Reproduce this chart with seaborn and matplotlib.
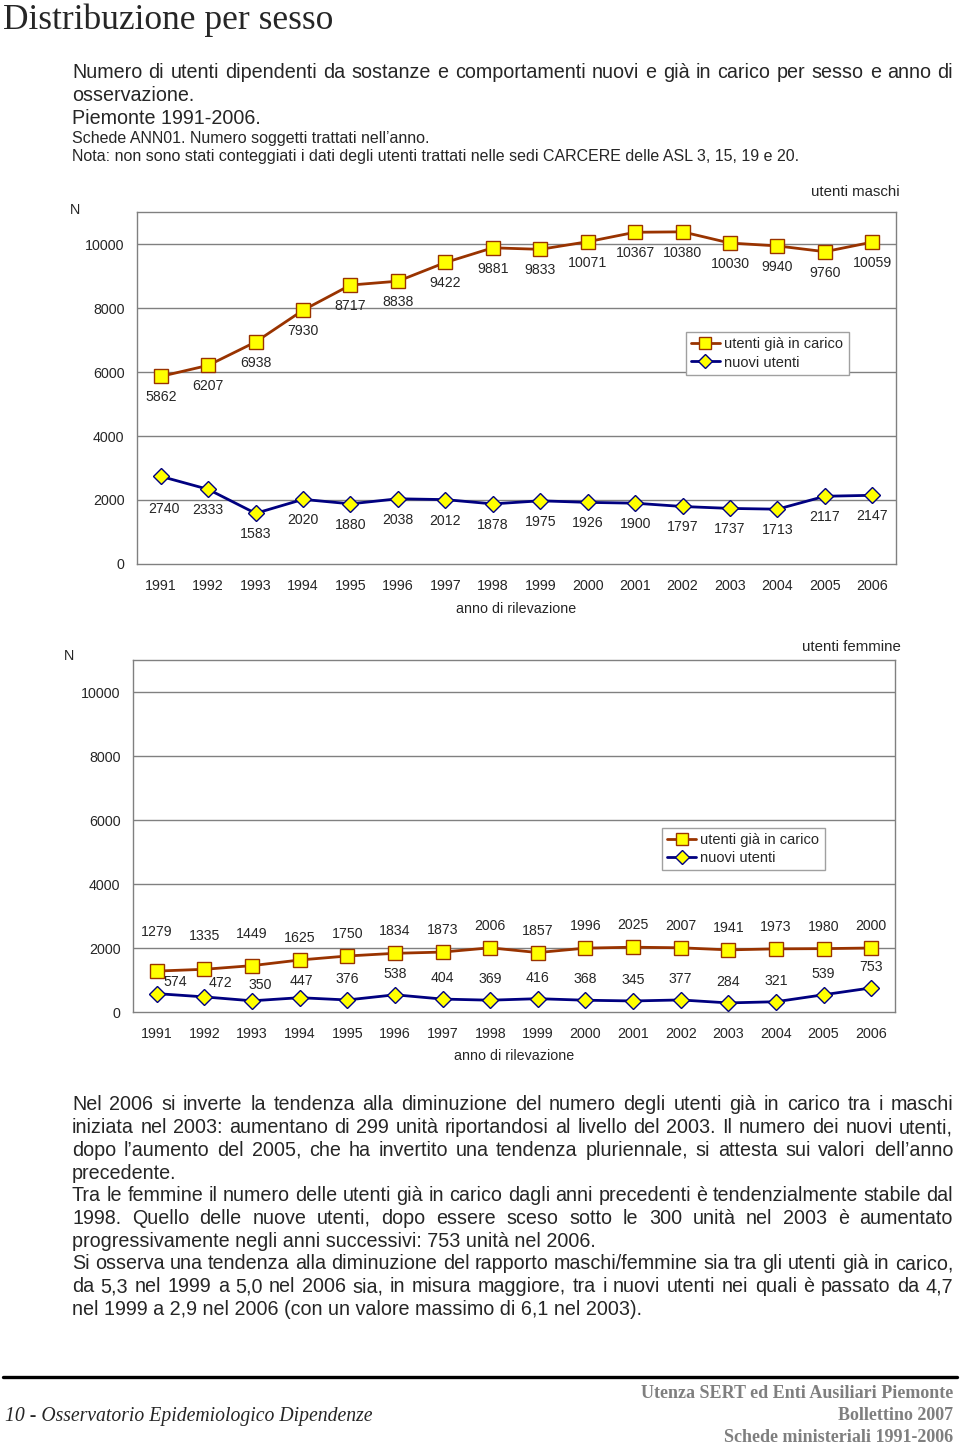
import numpy as np
import pandas as pd
import matplotlib
matplotlib.use("Agg")
import matplotlib.pyplot as plt
from matplotlib.lines import Line2D
import seaborn as sns

# dati
anni = ["1991", "1992", "1993", "1994", "1995", "1996", "1997", "1998",
        "1999", "2000", "2001", "2002", "2003", "2004", "2005", "2006"]
maschi_carico = [5862, 6207, 6938, 7930, 8717, 8838, 9422, 9881,
                 9833, 10071, 10367, 10380, 10030, 9940, 9760, 10059]
maschi_nuovi = [2740, 2333, 1583, 2020, 1880, 2038, 2012, 1878,
                1975, 1926, 1900, 1797, 1737, 1713, 2117, 2147]
femmine_carico = [1279, 1335, 1449, 1625, 1750, 1834, 1873, 2006,
                  1857, 1996, 2025, 2007, 1941, 1973, 1980, 2000]
femmine_nuovi = [574, 472, 350, 447, 376, 538, 404, 369,
                 416, 368, 345, 377, 284, 321, 539, 753]
serie = ["utenti già in carico", "nuovi utenti"]
y_ticks = [0, 2000, 4000, 6000, 8000, 10000]

titolo = "Distribuzione per sesso"
sottotitolo = [("Numero di utenti dipendenti da sostanze e comportamenti nuovi e già in carico per sesso e anno di", True),
               ("osservazione.", False),
               ("Piemonte 1991-2006.", False)]
note = ["Schede ANN01. Numero soggetti trattati nell’anno.",
        "Nota: non sono stati conteggiati i dati degli utenti trattati nelle sedi CARCERE delle ASL 3, 15, 19 e 20."]
commento = [
    ("Nel 2006 si inverte la tendenza alla diminuzione del numero degli utenti già in carico tra i maschi", True),
    ("iniziata nel 2003: aumentano di 299 unità riportandosi al livello del 2003. Il numero dei nuovi utenti,", True),
    ("dopo l’aumento del 2005, che ha invertito una tendenza pluriennale, si attesta sui valori dell’anno", True),
    ("precedente.", False),
    ("Tra le femmine il numero delle utenti già in carico dagli anni precedenti è tendenzialmente stabile dal", True),
    ("1998. Quello delle nuove utenti, dopo essere sceso sotto le 300 unità nel 2003 è aumentato", True),
    ("progressivamente negli anni successivi: 753 unità nel 2006.", False),
    ("Si osserva una tendenza alla diminuzione del rapporto maschi/femmine sia tra gli utenti già in carico,", True),
    ("da 5,3 nel 1999 a 5,0 nel 2006 sia, in misura maggiore, tra i nuovi utenti nei quali è passato da 4,7", True),
    ("nel 1999 a 2,9 nel 2006 (con un valore massimo di 6,1 nel 2003).", False),
]
piede_sx = "10 - Osservatorio Epidemiologico Dipendenze"
piede_dx = ["Utenza SERT ed Enti Ausiliari Piemonte", "Bollettino 2007", "Schede ministeriali 1991-2006"]

sns.set_style("white")
plt.rcParams["font.family"] = ["Liberation Sans", "DejaVu Sans"]

W, H = 960, 1446
MARRONE = "#993300"
BLU = "#000080"
GIALLO = "#ffff00"
GRIGIO = "#808080"

fig = plt.figure(figsize=(W / 100, H / 100), dpi=100)
fig.patch.set_facecolor("white")
renderer = fig.canvas.get_renderer()


def px(x, y):
    return x / W, 1 - y / H


def pannello(rect, carico, nuovi, off_carico, off_nuovi, pos_legenda):
    ax = fig.add_axes(rect)
    df = pd.DataFrame({"pos": np.arange(len(anni)), "carico": carico, "nuovi": nuovi})
    sns.lineplot(data=df, x="pos", y="carico", ax=ax, color=MARRONE, lw=2,
                 marker="s", ms=9.5, mfc=GIALLO, mec=MARRONE, mew=1, zorder=3)
    sns.lineplot(data=df, x="pos", y="nuovi", ax=ax, color=BLU, lw=2,
                 marker="D", ms=8, mfc=GIALLO, mec=BLU, mew=1, zorder=3)
    ax.set_xlim(-0.5, len(anni) - 0.5)
    ax.set_ylim(0, 11000)
    ax.set_yticks(y_ticks)
    ax.set_yticklabels([str(t) for t in y_ticks], fontsize=10.3)
    ax.set_xticks(df["pos"])
    ax.set_xticklabels(anni, fontsize=10.3)
    ax.set_xticks(np.arange(-0.5, len(anni), 1), minor=True)
    ax.tick_params(axis="x", which="major", length=0, pad=11)
    ax.tick_params(axis="x", which="minor", length=4, color=GRIGIO, width=1)
    ax.tick_params(axis="y", length=0, pad=9)
    ax.set_xlabel("")
    ax.set_ylabel("")
    for t in y_ticks[1:]:
        ax.axhline(t, color=GRIGIO, lw=1, zorder=1)
    for s in ax.spines.values():
        s.set_color(GRIGIO)
        s.set_linewidth(1)
    for i, v in enumerate(carico):
        dx, dy = off_carico(i)
        ax.annotate(str(v), (i, v), xytext=(dx, dy), textcoords="offset pixels",
                    ha="center", va="center", fontsize=10.2)
    for i, v in enumerate(nuovi):
        dx, dy = off_nuovi(i)
        ax.annotate(str(v), (i, v), xytext=(dx, dy), textcoords="offset pixels",
                    ha="center", va="center", fontsize=10.2)
    maniglie = [Line2D([], [], color=MARRONE, lw=2, marker="s", ms=8, mfc=GIALLO, mec=MARRONE),
                Line2D([], [], color=BLU, lw=2, marker="D", ms=7, mfc=GIALLO, mec=BLU)]
    leg = ax.legend(maniglie, serie, loc="upper left", bbox_to_anchor=pos_legenda,
                    frameon=True, fancybox=False, framealpha=1, edgecolor="#a0a0a0",
                    fontsize=10.5, handlelength=2.0, handletextpad=0.3,
                    borderpad=0.35, labelspacing=0.3, borderaxespad=0)
    leg.get_frame().set_linewidth(1)
    return ax


# grafico maschi
pannello([137 / W, 1 - 564 / H, 759 / W, 352 / H], maschi_carico, maschi_nuovi,
         lambda i: (0, -21),
         lambda i: (3, -33) if i == 0 else (0, -21),
         (0.723, 0.659))
fig.text(*px(75, 210), "N", ha="center", va="center", fontsize=10.3)
fig.text(*px(855, 192), "utenti maschi", ha="center", va="center", fontsize=10.8)
fig.text(*px(516, 609), "anno di rilevazione", ha="center", va="center", fontsize=10.3)

# grafico femmine
extra_carico = {0: 17, 1: 11, 2: 10}
extra_nuovi = {0: (18, 12), 1: (16, 14), 2: (8, 16), 3: (2, 17)}
pannello([133 / W, 1 - 1012 / H, 762 / W, 352 / H], femmine_carico, femmine_nuovi,
         lambda i: (0, 22 + extra_carico.get(i, 0)),
         lambda i: extra_nuovi.get(i, (0, 21)),
         (0.694, 0.523))
fig.text(*px(69, 656), "N", ha="center", va="center", fontsize=10.3)
fig.text(*px(851, 647), "utenti femmine", ha="center", va="center", fontsize=10.8)
fig.text(*px(514, 1056), "anno di rilevazione", ha="center", va="center", fontsize=10.3)


def riga_giustificata(testo, y, giustifica, x0=72, x1=953, size=14.2):
    if not giustifica:
        fig.text(*px(x0, y), testo, ha="left", va="center", fontsize=size)
        return
    parole = testo.split(" ")
    oggetti = [fig.text(*px(x0, y), p, ha="left", va="center", fontsize=size) for p in parole]
    larg = [t.get_window_extent(renderer).width for t in oggetti]
    gap = (x1 - x0 - sum(larg)) / (len(parole) - 1)
    x = x0
    for t, w in zip(oggetti, larg):
        t.set_x(x / W)
        x += w + gap


# testi
fig.text(*px(3, 20), titolo, ha="left", va="center", fontsize=25.5,
         family=["Liberation Serif", "DejaVu Serif"])
for k, (riga, giust) in enumerate(sottotitolo):
    riga_giustificata(riga, 73 + 22.5 * k, giust)
for k, riga in enumerate(note):
    fig.text(*px(72, 138 + 18.5 * k), riga, ha="left", va="center", fontsize=11.5)

for k, (riga, giust) in enumerate(commento):
    riga_giustificata(riga, 1105 + 22.7 * k, giust)

# piede di pagina
fig.add_artist(Line2D([3 / W, 957 / W], [1 - 1377 / H] * 2, color="black", lw=2.4))
fig.text(*px(5, 1417), piede_sx, ha="left", va="center", fontsize=14.2, style="italic",
         family=["Liberation Serif", "DejaVu Serif"])
for k, riga in enumerate(piede_dx):
    fig.text(*px(953, 1393 + 22.5 * k), riga, ha="right", va="center", fontsize=13,
             weight="bold", color="#7f7f7f", family=["Liberation Serif", "DejaVu Serif"])

fig.savefig("out.png", dpi=100)
